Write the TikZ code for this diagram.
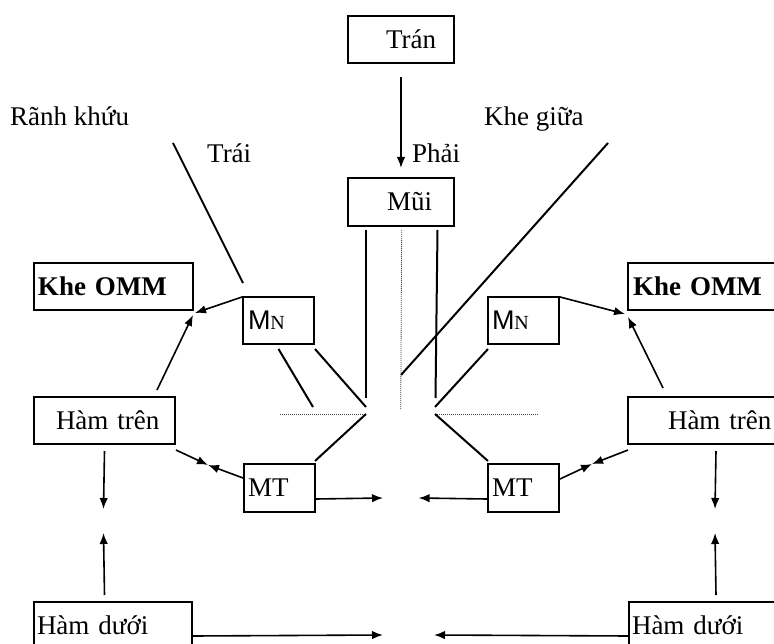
\documentclass[tikz,border=0pt]{standalone}
\usepackage{fontspec}
\setmainfont{Liberation Serif}
\newfontfamily\arialf{Liberation Sans}
\usetikzlibrary{arrows.meta}
\begin{document}
\begin{tikzpicture}[x=1pt,y=-1pt,
  box/.style={draw,line width=2pt,inner sep=0pt,minimum height=47pt,align=left,anchor=north west,font=\fontsize{27}{30}\selectfont},
  ln/.style={line width=2pt},
  arr/.style={line width=1.6pt,-{Latex[length=11pt,width=8.5pt]}},
  dotl/.style={line width=0.8pt,black!75,dash pattern=on 1pt off 1pt},
  lbl/.style={inner sep=0pt,anchor=base west,font=\fontsize{27}{30}\selectfont}]
\useasboundingbox (0,0) rectangle (774,644);
\clip (0,0) rectangle (774,644);
\fill[white] (0,0) rectangle (774,644);
% boxes
\node[box,text width=106pt] (tran) at (347,15) {\hspace*{38pt}Trán};
\node[box,text width=106pt,minimum height=48pt] (mui) at (347,177) {\hspace*{39pt}Mũi};
\node[box,text width=159pt] (khL) at (33,262) {\hspace*{4pt}\bfseries Khe OMM};
\node[box,text width=176pt] (khR) at (627,262) {\hspace*{5pt}\bfseries Khe OMM};
\node[box,text width=71pt] (mnL) at (242,296) {\hspace*{5pt}{\arialf M}{\fontsize{20}{20}\selectfont N}};
\node[box,text width=71pt] (mnR) at (487,296) {\hspace*{4pt}{\arialf M}{\fontsize{20}{20}\selectfont N}};
\node[box,text width=141pt] (htL) at (33,396) {\hspace*{22pt}Hàm trên};
\node[box,text width=176pt] (htR) at (627,396) {\hspace*{40pt}Hàm trên};
\node[box,text width=71pt,minimum height=48pt] (mtL) at (243,463) {\hspace*{4pt}MT};
\node[box,text width=71pt,minimum height=48pt] (mtR) at (487,463) {\hspace*{4pt}MT};
\node[box,text width=158pt] (hdL) at (33,601) {\hspace*{3pt}Hàm dưới};
\node[box,text width=174pt] (hdR) at (628,601) {\hspace*{3pt}Hàm dưới};
% labels
\node[lbl] (rk) at (10,126) {Rãnh khứu};
\node[lbl] (kg) at (484,126) {Khe giữa};
\node[lbl] (trai) at (207,163) {Trái};
\node[lbl] (phai) at (412,163) {Phải};
% free ends
\coordinate (rkTop) at (173,143);
\coordinate (kgTop) at (608,143);
\coordinate (kgBot) at (401,375);
\coordinate (cL) at (366,414);
\coordinate (cR) at (435,414);
\coordinate (pL1) at (313,407);
\coordinate (pL2) at (366,407);
\coordinate (pR2) at (435,407);
\coordinate (vL) at (366,398);
\coordinate (vR) at (435.5,398);
\coordinate (vC) at (400.7,410);
\coordinate (dL) at (280,414);
\coordinate (dR) at (539,414);
\coordinate (jL) at (208,465);
\coordinate (jR) at (592,464);
\coordinate (mL) at (383,498);
\coordinate (mR) at (418.6,498);
\coordinate (hbL) at (383,635);
\coordinate (hbR) at (434,635);
\coordinate (vL1) at (103.5,509);
\coordinate (vL2) at (103.5,533);
\coordinate (vR1) at (715,509);
\coordinate (vR2) at (715,533);
% connectors
\draw[arr] ([shift={(0,13)}]tran.south) -- ([shift={(0,-9)}]mui.north);
\draw[ln] (rkTop) -- ([shift={(1,-13)}]mnL.north west);
\draw[ln] (kgTop) -- (kgBot);
\draw[arr] ([shift={(0,1)}]mnL.north west) -- ([shift={(1,2)}]khL.south east);
\draw[arr] ([shift={(-19,-6)}]htL.north east) -- ([shift={(-1,4)}]khL.south east);
\draw[arr] ([shift={(0,1)}]mnR.north east) -- ([shift={(-2,3)}]khR.south west);
\draw[arr] ([shift={(36,-8)}]htR.north west) -- ([shift={(1,6)}]khR.south west);
\draw[ln] ([shift={(0,4)}]mnL.south) -- (pL1);
\draw[ln] ([shift={(0,4)}]mnL.south east) -- (pL2);
\draw[ln] ([shift={(1,4)}]mnR.south west) -- (pR2);
\draw[ln] ([shift={(19,3)}]mui.south west) -- (vL);
\draw[ln] ([shift={(-17.5,3)}]mui.south east) -- (vR);
\draw[dotl] ([shift={(0.7,3)}]mui.south) -- (vC);
\draw[dotl] (dL) -- (cL);
\draw[dotl] (cR) -- (dR);
\draw[ln] (cL) -- ([shift={(-1,-2)}]mtL.north east);
\draw[ln] (cR) -- ([shift={(1,-2)}]mtR.north west);
\draw[arr] ([shift={(0,5)}]htL.south east) -- (jL);
\draw[arr] ([shift={(0,15)}]mtL.north west) -- (jL);
\draw[arr] ([shift={(1,5)}]htR.south west) -- (jR);
\draw[arr] ([shift={(0,16)}]mtR.north east) -- (jR);
\draw[arr] ([shift={(0,11)}]mtL.east) -- (mL);
\draw[arr] ([shift={(0,11)}]mtR.west) -- (mR);
\draw[arr] ([shift={(0,6)}]htL.south) -- (vL1);
\draw[arr] ([shift={(-8.5,-6)}]hdL.north) -- (vL2);
\draw[arr] ([shift={(0,6)}]htR.south) -- (vR1);
\draw[arr] ([shift={(0,-6)}]hdR.north) -- (vR2);
\draw[arr] ([shift={(0,10.5)}]hdL.east) -- (hbL);
\draw[arr] ([shift={(0,10.5)}]hdR.west) -- (hbR);
\end{tikzpicture}
\end{document}
